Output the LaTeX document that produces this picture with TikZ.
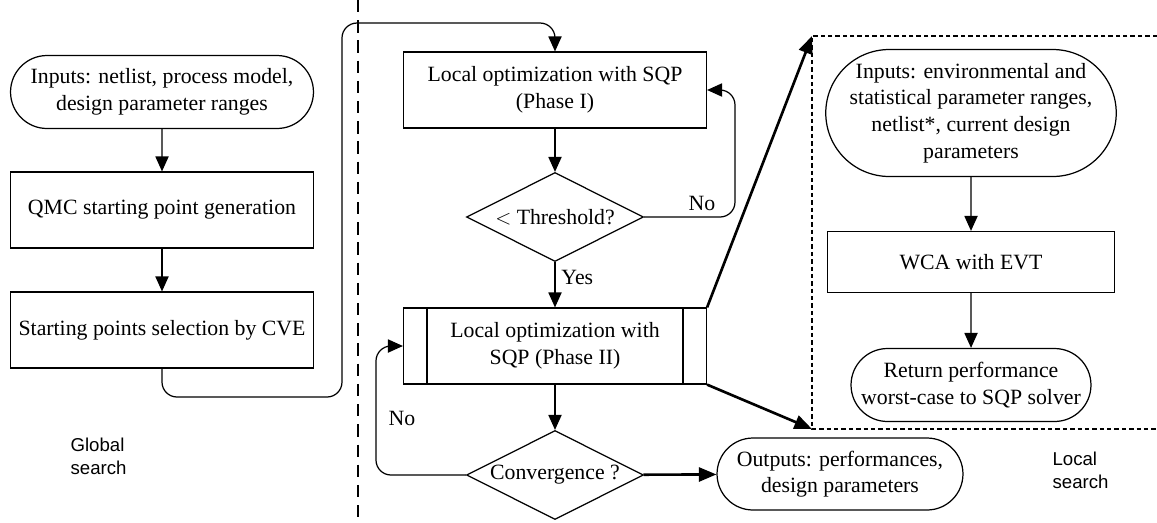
\documentclass[tikz,border=0pt]{standalone}
\usepackage{fontspec}
\setmainfont{Liberation Serif}
\newfontfamily\regionfont{Liberation Sans}
\usetikzlibrary{arrows.meta, shapes.geometric, shapes.misc}

\begin{document}
\begin{tikzpicture}[x=0.02cm, y=-0.02cm, ->, >={Triangle[length=8.5pt, width=7.5pt]}, line width=0.7pt, font=\fontsize{12.4}{15.1}\selectfont,
		terminal/.style={draw, rounded rectangle, align=center, inner sep=0pt},
		process/.style={draw, rectangle, align=center, inner sep=0pt, minimum width=6.06cm, minimum height=1.52cm},
		decision/.style={draw, diamond, aspect=2, inner sep=0pt, minimum width=3.54cm, minimum height=1.78cm},
		heavy/.style={line width=1.5pt, >={Triangle[length=10pt, width=8pt]}},
		region/.style={font=\regionfont\fontsize{10.6}{13}\selectfont, align=left, anchor=west, inner sep=0pt}]
		\useasboundingbox (0, 0) rectangle (1157, 522);

		% global search
		\node[terminal, minimum width=6.06cm, minimum height=1.46cm]	(in1) at (162, 92) {Inputs: netlist, process model,\\ design parameter ranges};
		\node[process]							(qmc) at (162, 210) {QMC starting point generation};
		\node[process]							(sel) at (162, 330) {Starting points selection by CVE};
		\node[region]							(glob) at (70, 456) {Global\\ search};

		% SQP loop
		\node[process]							(ph1) at (555, 90) {Local optimization with SQP\\ (Phase I)};
		\node[decision]							(thr) at (555, 217) {$<$ Threshold?};
		\node[process]							(ph2) at (555, 346) {Local optimization with\\ SQP (Phase II)};
		\node[decision]							(conv) at (555, 475) {Convergence ?};
		\node[terminal, minimum width=4.92cm, minimum height=1.44cm]	(out) at (840, 474) {Outputs: performances,\\ design parameters};

		% local search
		\node[terminal, minimum width=5.76cm, minimum height=2.54cm]	(in2) at (971, 113) {Inputs: environmental and\\ statistical parameter ranges,\\ netlist*, current design\\ parameters};
		\node[process, minimum width=5.74cm, minimum height=1.22cm]	(wca) at (971, 262) {WCA with EVT};
		\node[terminal, minimum width=4.8cm, minimum height=1.46cm]	(ret) at (971, 385) {Return performance\\ worst-case to SQP solver};
		\node[region]							(loc) at (1052, 470) {Local\\ search};

		\coordinate (c1) at (342, 397);
		\coordinate (c2) at (342, 23);
		\coordinate (c3) at (735, 90);
		\coordinate (c4) at (376, 346);
		\coordinate (lt) at (812, 36);
		\coordinate (lb) at (812, 429);

		\draw[-] ([xshift=0.48cm]ph2.north west) -- ([xshift=0.48cm]ph2.south west);
		\draw[-] ([xshift=-0.48cm]ph2.north east) -- ([xshift=-0.48cm]ph2.south east);
		\draw[-, dash pattern=on 7pt off 4.5pt] (358, 0) -- (358, 522);
		\draw[-, line width=0.6pt, dash pattern=on 2.5pt off 1.7pt] (1157, 36) -| (lb) -- (1157, 429);

		\path	(in1) edge (qmc)
				(qmc) edge (sel)
				(ph1) edge (thr)
				(thr) edge node[right, pos=0.35] {Yes} (ph2)
				(ph2) edge (conv)
				(in2) edge (wca)
				(wca) edge (ret);

		\draw[rounded corners=0.3cm] (sel.south) |- (c1) -- (c2) -| (ph1.north);
		\draw[rounded corners=0.3cm] (thr.east) -| (c3) -- (ph1.east);
		\draw[rounded corners=0.3cm] (conv.west) -| (c4) -- (ph2.west);
		\node at (702, 203) {No};
		\node at (402, 418) {No};

		\draw[heavy] (ph2.north east) -- (lt);
		\draw[heavy] (ph2.south east) -- (lb);
		\draw[heavy] (conv) -- (out);
	\end{tikzpicture}
\end{document}
